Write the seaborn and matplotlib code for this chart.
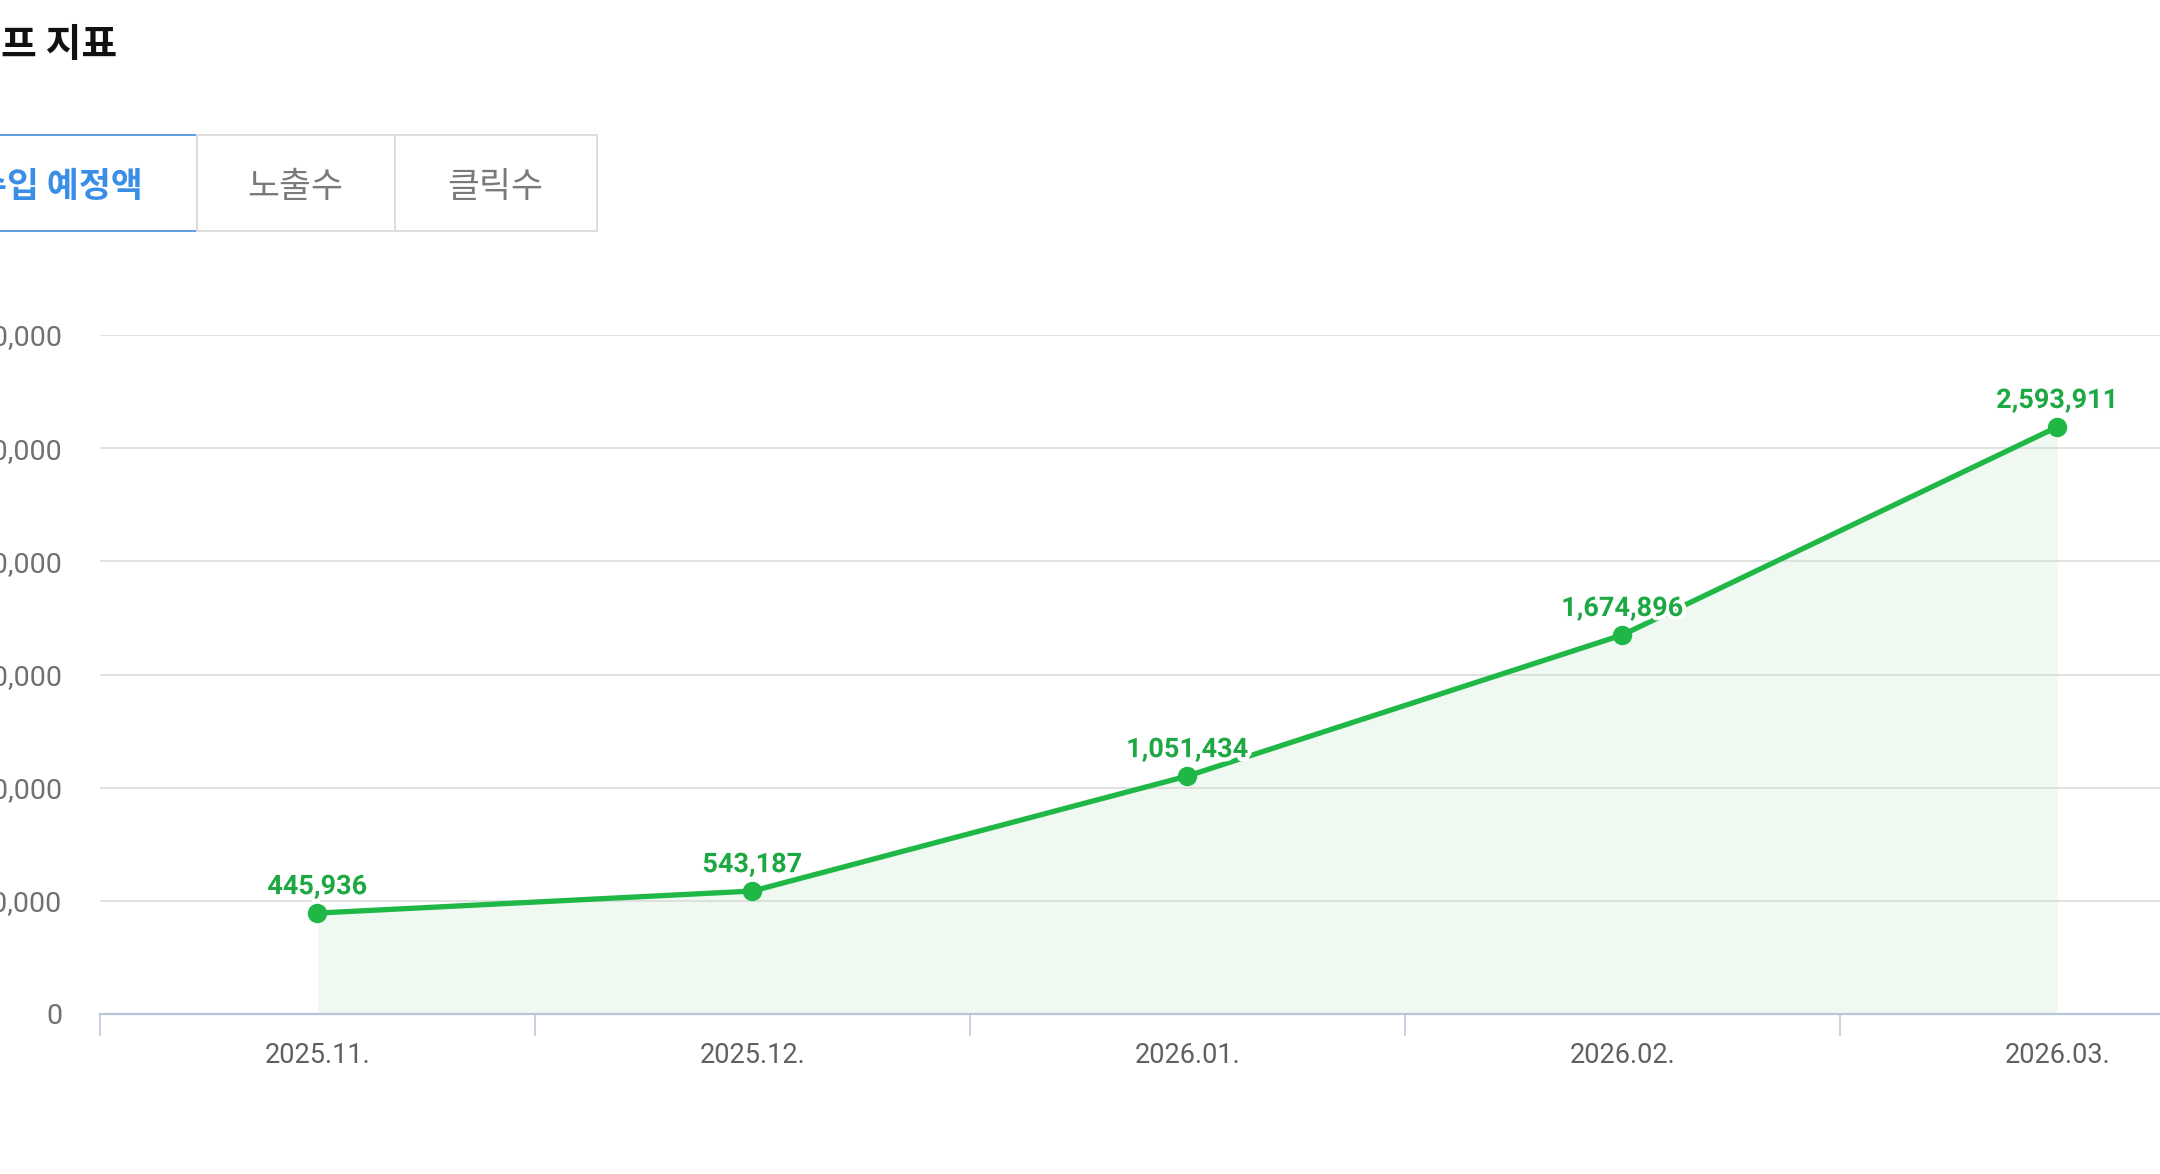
import pandas as pd
import matplotlib.pyplot as plt
import seaborn as sns
from matplotlib.patches import Rectangle
from matplotlib import patheffects as pe

meses = ['2025.11.', '2025.12.', '2026.01.', '2026.02.', '2026.03.']
receita = [445936, 543187, 1051434, 1674896, 2593911]
y_ticks = [0, 500000, 1000000, 1500000, 2000000, 2500000, 3000000]
titulo = '프 지표'
abas = ['수입 예정액', '노출수', '클릭수']

df = pd.DataFrame({'idx': range(len(meses)), 'mes': meses, 'valor': receita})

W, H = 2160, 1174

sns.set_theme(style='white')
plt.rcParams['font.family'] = ['Roboto', 'Noto Sans CJK KR', 'DejaVu Sans']

fig = plt.figure(figsize=(W / 100, H / 100), dpi=100)
ax = fig.add_axes([100 / W, 1 - 1014 / H, 1 - 100 / W, (1014 - 335) / H])

verde = '#1fb746'

# area sob a linha
ax.fill_between(df['idx'], df['valor'], color=verde, alpha=0.07, linewidth=0, zorder=1)

sns.lineplot(data=df, x='idx', y='valor', ax=ax, color=verde, linewidth=3.8,
             marker='o', markersize=14, markeredgewidth=0, zorder=4)

for i, v in zip(df['idx'], df['valor']):
    ax.annotate(f"{v:,}", (i, v), xytext=(0, 19), textcoords='offset points',
                ha='center', va='center', fontsize=19.5, fontweight='bold',
                color='#1ea843', annotation_clip=False, zorder=5,
                path_effects=[pe.withStroke(linewidth=6, foreground='white')])

ax.set_ylim(0, 3000000)
ax.set_xlim(-0.5, 4.236)
ax.set_yticks(y_ticks)
ax.set_yticklabels([f"{t:,}" for t in y_ticks], fontsize=20.5, color='#707070')
ax.set_xticks(df['idx'])
ax.set_xticklabels(meses, fontsize=19.5, color='#606060')
ax.set_xticks([i - 0.5 for i in range(len(meses))], minor=True)
ax.tick_params(axis='y', length=0, pad=27)
ax.tick_params(axis='x', which='major', length=0, pad=20)
ax.tick_params(axis='x', which='minor', bottom=True, length=16, width=1.1,
               color='#b7c4d6', direction='out')

ax.grid(True, axis='y', color='#d8d8d8', linewidth=1.1, zorder=2)
ax.grid(False, axis='x')
ax.set_axisbelow(False)
for s in ['left', 'right', 'top']:
    ax.spines[s].set_visible(False)
ax.spines['bottom'].set_color('#b7c6da')
ax.spines['bottom'].set_linewidth(1.6)
ax.spines['bottom'].set_zorder(3)
ax.set_xlabel('')
ax.set_ylabel('')

# titulo e abas (cortados na borda esquerda)
fig.text(117 / W, 1 - 45 / H, titulo, ha='right', va='center', fontsize=28,
         fontweight='bold', color='#111111', family=['Noto Sans CJK KR', 'DejaVu Sans'])

bordas = [(-60, 197, '#5b9de3'), (197, 395, '#dddddd'), (395, 597, '#dddddd')]
for x0, x1, cor in bordas:
    fig.add_artist(Rectangle((x0 / W, 1 - 231 / H), (x1 - x0) / W, 96 / H,
                             transform=fig.transFigure, facecolor='white',
                             edgecolor=cor, linewidth=1.4))

fig.text(143 / W, 1 - 187 / H, abas[0], ha='right', va='center', fontsize=25,
         fontweight='bold', color='#3a8ee6', family=['Noto Sans CJK KR', 'DejaVu Sans'])
fig.text(295 / W, 1 - 187 / H, abas[1], ha='center', va='center', fontsize=25,
         color='#7a7a7a', family=['Noto Sans CJK KR', 'DejaVu Sans'])
fig.text(495 / W, 1 - 187 / H, abas[2], ha='center', va='center', fontsize=25,
         color='#7a7a7a', family=['Noto Sans CJK KR', 'DejaVu Sans'])

plt.savefig('out.png', dpi=100)
